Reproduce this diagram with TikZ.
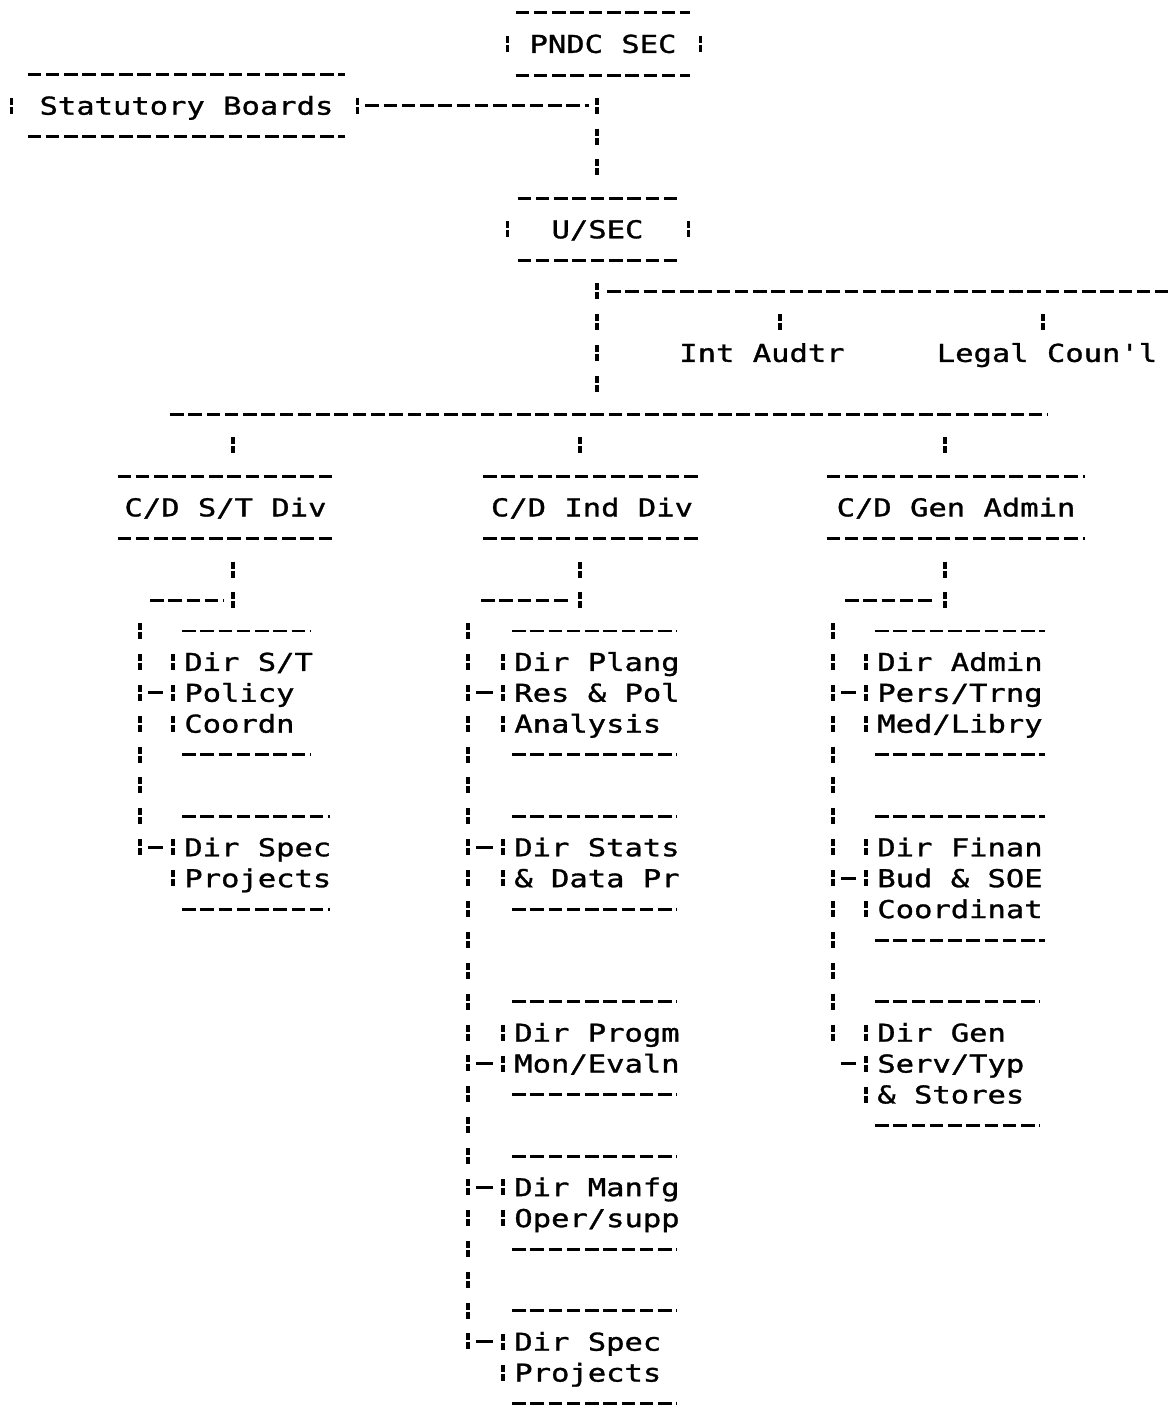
\documentclass[tikz,border=0pt]{standalone}
\usepackage{fontspec}
\newfontfamily\dotfamily[FakeStretch=1.24, FakeBold=1.2]{DejaVu Sans Mono}
\usetikzlibrary{calc}

\begin{document}
\begin{tikzpicture}[
		x=0.02cm, y=-0.02cm,
		lbl/.style={font=\dotfamily\fontsize{14}{17}\selectfont, inner sep=0pt,
			text height=10.2pt, text depth=0pt},
		tbox/.style={lbl, minimum height=1.236cm},
		dirrow/.style={lbl, anchor=west},
		dashrule/.style={line width=1.7pt, dash pattern=on 7.7pt off 2.7pt},
		barrun/.style={line width=1.8pt, dash pattern=on 3.98pt off 1.14pt on 3.98pt off 8.48pt},
		teeline/.style={line width=1.6pt}
		]
		\useasboundingbox (0,0) rectangle (1168,1405);
		
		% top of the chart
		\node[tbox, minimum width=3.48cm] (pndc) at (603,43.9) {PNDC SEC};
		\node[tbox, minimum width=6.34cm] (stat) at (186.5,105.7) {Statutory Boards};
		\node[tbox, minimum width=3.18cm] (usec) at (597.5,229.3) {U/SEC};
		\node[lbl] (audit) at (762,352.9) {Int Audtr};
		\node[lbl] (legal) at (1047,352.9) {Legal Coun'l};
		
		% divisions
		\node[tbox, minimum width=4.3cm] (cdst) at (225.5,507.4) {C/D S/T Div};
		\node[tbox, minimum width=4.34cm] (cdind) at (592,507.4) {C/D Ind Div};
		\node[tbox, minimum width=5.16cm] (cdgen) at (956,507.4) {C/D Gen Admin};
		
		\foreach \n in {pndc,stat,usec,cdst,cdind,cdgen} {
			\draw[dashrule] (\n.north west) -- (\n.north east);
			\draw[dashrule] (\n.south west) -- (\n.south east);
		}
		\foreach \n/\dl/\dr in {pndc/-8/10, stat/-16/12, usec/-10/11} {
			\draw[barrun] ($(\n.west)+(\dl,-8)$) -- ($(\n.west)+(\dl,8)$);
			\draw[barrun] ($(\n.east)+(\dr,-8)$) -- ($(\n.east)+(\dr,8)$);
		}
		
		% junctions
		\coordinate (j0) at (597,105.7);
		\coordinate (j1) at (597,291.1);
		\coordinate (brE) at (1168,291.1);
		\coordinate (aT) at (780,322);
		\coordinate (lT) at (1043,322);
		\coordinate (busL) at (170,414.7);
		\coordinate (busR) at (1048,414.7);
		\coordinate (stK) at (233,600.1);
		\coordinate (indK) at (580,600.1);
		\coordinate (genK) at (945,600.1);
		\coordinate (stS) at (150,600.1);
		\coordinate (indS) at (481,600.1);
		\coordinate (genS) at (845,600.1);
		\coordinate (stT) at (140,631);
		\coordinate (indT) at (468,631);
		\coordinate (genT) at (833,631);
		
		% connectors
		\draw[dashrule] ($(stat.east)+(20,0)$) -- ($(j0)+(-8,0)$);
		\draw[barrun] ($(j0)+(0,-8)$) -- ($(usec.north -| j0)+(0,-22.9)$);
		\draw[barrun] ($(usec.south -| j1)+(0,22.9)$) -- ($(busL -| j1)+(0,-22.9)$);
		\draw[dashrule] ($(j1)+(10,0)$) -- (brE);
		\draw[barrun] ($(aT)+(0,-8)$) -- ($(aT)+(0,8)$);
		\draw[barrun] ($(lT)+(0,-8)$) -- ($(lT)+(0,8)$);
		\draw[dashrule] (busL) -- (busR);
		\foreach \n/\k/\s in {cdst/stK/stS, cdind/indK/indS, cdgen/genK/genS} {
			\draw[barrun] ($(\n.north -| \k)+(0,-38.9)$) -- ($(\n.north -| \k)+(0,-22.9)$);
			\draw[barrun] ($(\n.south -| \k)+(0,22.9)$) -- ($(\k)+(0,8)$);
			\draw[dashrule] (\s) -- ($(\k)+(-9,0)$);
		}
		
		% directorates
		\foreach \nm/\x/\r/\n/\tee/\e/\tk/\rows in {
			st1/184/21/3/2/310/stT/{Dir S/T,Policy,Coordn},
			st2/184/27/2/1/330/stT/{Dir Spec,Projects},
			ind1/514/21/3/2/677/indT/{Dir Plang,Res \& Pol,Analysis},
			ind2/514/27/2/1/677/indT/{Dir Stats,\& Data Pr},
			ind3/514/33/2/2/677/indT/{Dir Progm,Mon/Evaln},
			ind4/514/38/2/1/677/indT/{Dir Manfg,Oper/supp},
			ind5/514/43/2/1/677/indT/{Dir Spec,Projects},
			gen1/877/21/3/2/1045/genT/{Dir Admin,Pers/Trng,Med/Libry},
			gen2/877/27/3/2/1045/genT/{Dir Finan,Bud \& SOE,Coordinat},
			gen3/877/33/3/2/1040/genT/{Dir Gen,Serv/Typ,\& Stores}} {
			\foreach \txt [count=\i] in \rows {
				\node[dirrow] (\nm-\i) at (\x,{13+30.9*(\r+\i-1)}) {\txt};
				\draw[barrun] ($(\nm-\i.west)+(-11,-8)$) -- ($(\nm-\i.west)+(-11,8)$);
			}
			\draw[dashrule] ({\x-2},{13+30.9*(\r-1)}) -- (\e,{13+30.9*(\r-1)});
			\draw[dashrule] ({\x-2},{13+30.9*(\r+\n)}) -- (\e,{13+30.9*(\r+\n)});
			\draw[teeline] ($(\nm-\tee.west -| \tk)+(8,0)$) -- ($(\nm-\tee.west)+(-21,0)$);
		}
		
		% trunks
		\draw[barrun] ($(stT)+(0,-8)$) -- ($(st2-1.west -| stT)+(0,8)$);
		\draw[barrun] ($(indT)+(0,-8)$) -- ($(ind5-1.west -| indT)+(0,8)$);
		\draw[barrun] ($(genT)+(0,-8)$) -- ($(gen3-1.west -| genT)+(0,8)$);
		
	\end{tikzpicture}
\end{document}
